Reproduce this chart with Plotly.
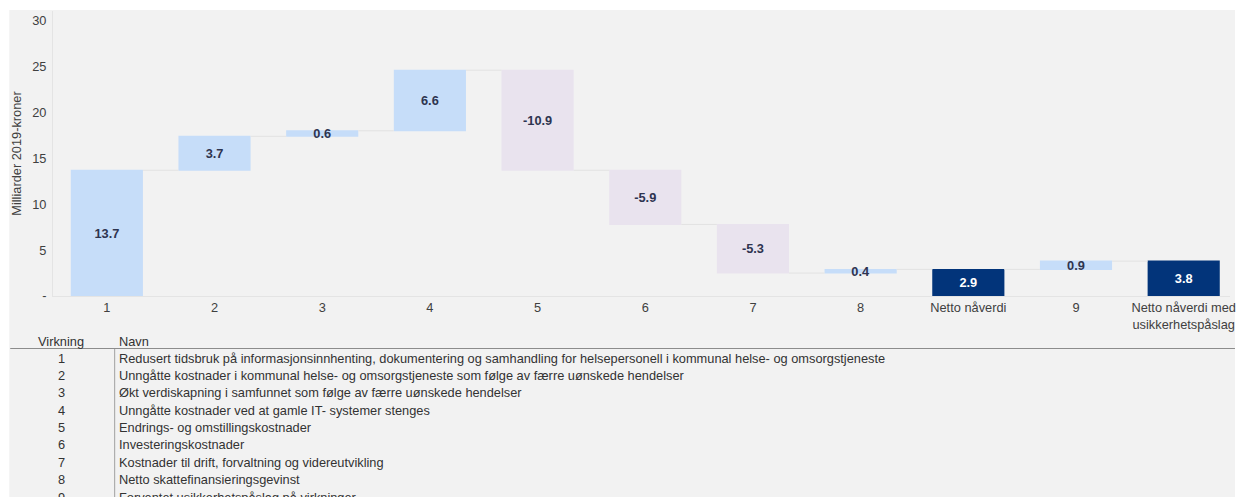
import plotly.graph_objects as go

# ---- data ----
categories = ["1", "2", "3", "4", "5", "6", "7", "8", "Netto nåverdi", "9",
              "Netto nåverdi med<br>usikkerhetspåslag"]
values = [13.7, 3.7, 0.6, 6.6, -10.9, -5.9, -5.3, 0.4, 2.9, 0.9, 3.8]
measures = ["relative"] * 8 + ["total", "relative", "total"]
value_labels = ["13.7", "3.7", "0.6", "6.6", "-10.9", "-5.9", "-5.3", "0.4", "2.9", "0.9", "3.8"]

y_tickvals = [0, 5, 10, 15, 20, 25, 30]
y_ticktext = ["-", "5", "10", "15", "20", "25", "30"]

table_ids = ["1", "2", "3", "4", "5", "6", "7", "8", "9"]
table_names = [
    "Redusert tidsbruk på informasjonsinnhenting, dokumentering og samhandling for helsepersonell i kommunal helse- og omsorgstjeneste",
    "Unngåtte kostnader i kommunal helse- og omsorgstjeneste som følge av færre uønskede hendelser",
    "Økt verdiskapning i samfunnet som følge av færre uønskede hendelser",
    "Unngåtte kostnader ved at gamle IT- systemer stenges",
    "Endrings- og omstillingskostnader",
    "Investeringskostnader",
    "Kostnader til drift, forvaltning og videreutvikling",
    "Netto skattefinansieringsgevinst",
    "Forventet usikkerhetspåslag på virkninger",
]

# ---- style / layout constants ----
W, H = 1236, 497
PLOT_L, PLOT_T, PLOT_B = 53, 11, 296
FONT = "Liberation Sans, Arial, sans-serif"
FS = 12.8
BG = "#f2f2f2"
INC = "#c6ddf9"
DEC = "#e9e3ee"
TOT = "#02347a"

def px_x(px):
    return (px - PLOT_L) / (W - PLOT_L)

def px_y(py):
    return (PLOT_B - py) / (PLOT_B - PLOT_T)

label_colors = ["#ffffff" if m == "total" else "#2e3450" for m in measures]

fig = go.Figure()
fig.add_trace(go.Waterfall(
    x=categories,
    y=values,
    measure=measures,
    text=value_labels,
    textposition="inside",
    insidetextanchor="middle",
    constraintext="none",
    textangle=0,
    textfont=dict(family=FONT, size=FS, color=label_colors, weight="bold"),
    increasing=dict(marker=dict(color=INC)),
    decreasing=dict(marker=dict(color=DEC)),
    totals=dict(marker=dict(color=TOT)),
    connector=dict(line=dict(color="#e2e2e2", width=1)),
    width=0.67,
    cliponaxis=False,
    hoverinfo="skip",
))

annotations = []
shapes = []

# background panel (white strip at top and left like the reference)
shapes.append(dict(type="rect", xref="paper", yref="paper", layer="below",
                   x0=px_x(9), x1=px_x(W + 5), y0=px_y(H + 5), y1=px_y(10),
                   fillcolor=BG, line=dict(width=0)))

# table header
annotations.append(dict(text="Virkning", xref="paper", yref="paper",
                        x=px_x(61), y=px_y(341), xanchor="center", yanchor="middle",
                        showarrow=False, font=dict(family=FONT, size=FS, color="#333333")))
annotations.append(dict(text="Navn", xref="paper", yref="paper",
                        x=px_x(117), y=px_y(341), xanchor="left", yanchor="middle",
                        showarrow=False, font=dict(family=FONT, size=FS, color="#333333")))
shapes.append(dict(type="line", xref="paper", yref="paper",
                   x0=px_x(10), x1=px_x(W + 5), y0=px_y(348.5), y1=px_y(348.5),
                   line=dict(color="#8c8c8c", width=1.2)))
shapes.append(dict(type="line", xref="paper", yref="paper",
                   x0=px_x(115), x1=px_x(115), y0=px_y(349), y1=px_y(H + 5),
                   line=dict(color="#a0a0a0", width=1)))

row0, row_step = 358, 17.4
for i, (rid, name) in enumerate(zip(table_ids, table_names)):
    yy = px_y(row0 + i * row_step)
    annotations.append(dict(text=rid, xref="paper", yref="paper",
                            x=px_x(62), y=yy, xanchor="center", yanchor="middle",
                            showarrow=False, font=dict(family=FONT, size=FS, color="#333333")))
    annotations.append(dict(text=name, xref="paper", yref="paper",
                            x=px_x(117), y=yy, xanchor="left", yanchor="middle",
                            showarrow=False, font=dict(family=FONT, size=FS, color="#333333")))

fig.update_layout(
    width=W, height=H,
    margin=dict(l=PLOT_L, r=0, t=PLOT_T, b=H - PLOT_B, pad=0),
    paper_bgcolor="#ffffff",
    plot_bgcolor=BG,
    showlegend=False,
    font=dict(family=FONT, size=FS, color="#404040"),
    annotations=annotations,
    shapes=shapes,
    xaxis=dict(
        type="category",
        range=[-0.5, 10.43],
        showgrid=False, zeroline=False,
        showline=True, linecolor="#e4e4e4", linewidth=1,
        ticks="", tickfont=dict(family=FONT, size=FS, color="#404040"),
        fixedrange=True,
    ),
    yaxis=dict(
        range=[0, 31.05],
        tickvals=y_tickvals, ticktext=y_ticktext,
        showgrid=False, zeroline=False,
        showline=True, linecolor="#e4e4e4", linewidth=1,
        ticks="", ticklabelstandoff=3,
        tickfont=dict(family=FONT, size=FS, color="#404040"),
        title=dict(text="Milliarder 2019-kroner", standoff=7,
                   font=dict(family=FONT, size=FS, color="#404040")),
        fixedrange=True,
    ),
)

fig.write_html("out.html")
